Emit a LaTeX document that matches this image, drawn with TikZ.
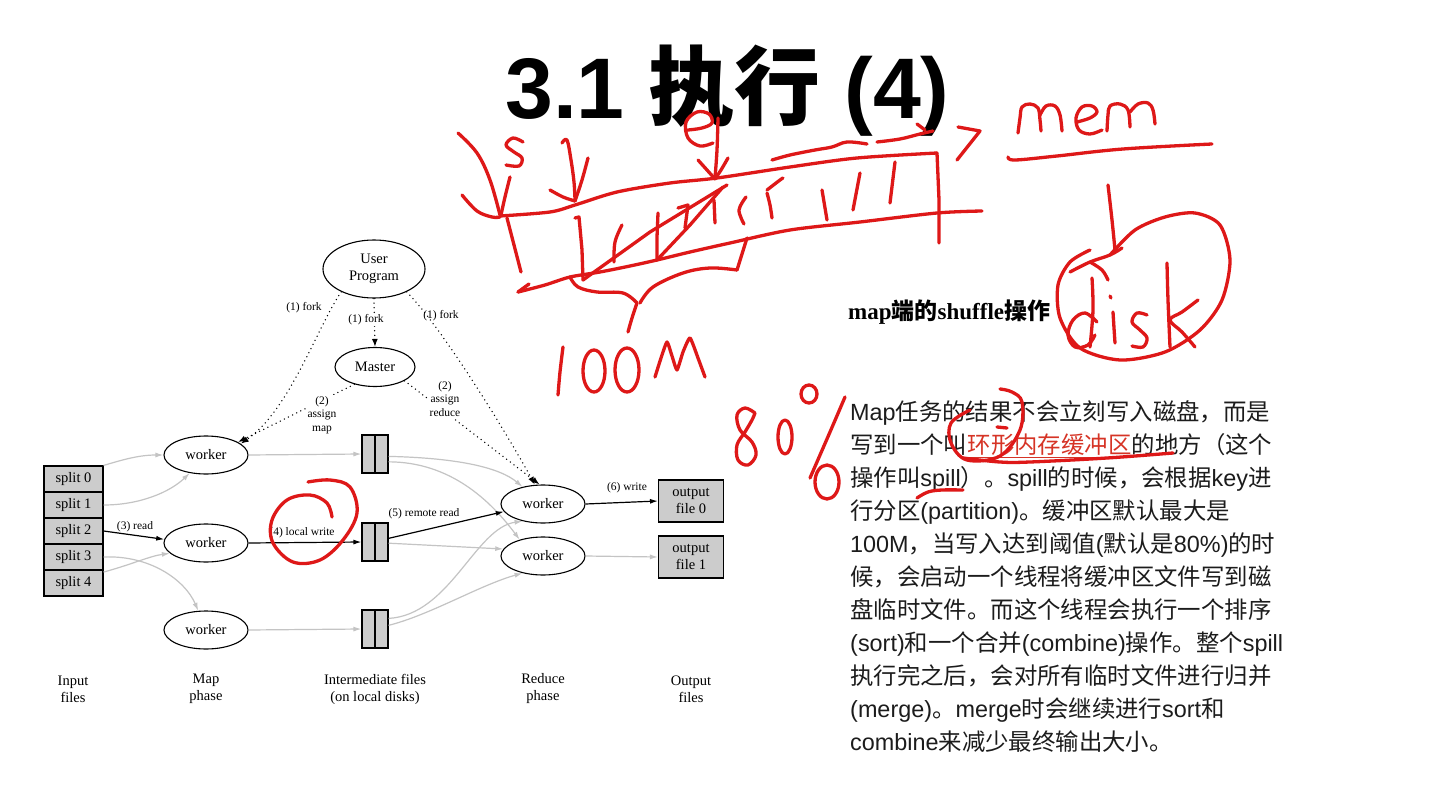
\documentclass[tikz,border=0pt]{standalone}
\usepackage{fontspec}
\setmainfont{Liberation Serif}
\newfontfamily\cjk{Noto Sans CJK SC}
\newfontfamily\headsans{Liberation Sans}
\newcommand\LatSeg[1]{{\headsans #1}}
\usetikzlibrary{shapes.geometric,arrows.meta}
\definecolor{penred}{RGB}{222,24,24}
\definecolor{linkred}{RGB}{214,52,38}
\definecolor{boxgray}{RGB}{204,204,204}
\definecolor{linegray}{RGB}{196,196,196}
\definecolor{bodytext}{RGB}{28,28,28}
\begin{document}
\begin{tikzpicture}[x=1pt,y=-1pt,
  dtext/.style={font=\fontsize{14.5}{17}\selectfont},
  stext/.style={font=\fontsize{11.5}{13.5}\selectfont, inner sep=1pt},
  oval/.style={draw, ellipse, line width=1.1pt, inner sep=0pt, dtext, align=center},
  worker/.style={oval, minimum width=84pt, minimum height=38pt},
  split/.style={draw, fill=boxgray, line width=1.1pt, minimum width=59pt, minimum height=26pt, inner sep=0pt, dtext},
  ifile/.style={draw, fill=boxgray, line width=1.1pt, minimum width=26pt, minimum height=38pt, inner sep=0pt},
  ofile/.style={draw, fill=boxgray, line width=1.1pt, minimum width=65pt, minimum height=42pt, inner sep=0pt, dtext, align=center},
  flow/.style={line width=1.2pt, -{Latex[length=8pt,width=5pt]}},
  live/.style={flow, draw=black},
  idle/.style={flow, draw=linegray},
  ctrl/.style={line width=1.5pt, line cap=round, dash pattern=on 0pt off 4.6pt, -{Latex[length=8pt,width=6pt]}},
  phase/.style={dtext, align=center},
  body/.style={anchor=base west, inner sep=0pt, text=bodytext, font={\cjk\fontsize{23.4}{28}\selectfont}},
  redink/.style={draw=penred, line width=3.3pt, line cap=round, line join=round}
]
\fill[white] (0,0) rectangle (1430,797);
\useasboundingbox (0,0) rectangle (1430,797);

% ---------- title ----------
\node[anchor=base west, inner sep=0pt, font={\headsans\bfseries\fontsize{86}{90}\selectfont}] (title) at (505,119) {3.1 {\cjk 执行} (4)};

% ---------- MapReduce execution overview ----------
\node[oval, minimum width=102pt, minimum height=58pt] (user) at (374,269) {User\\Program};
\node[oval, minimum width=80pt, minimum height=39pt] (master) at (375,367) {Master};

\node[split] (s0) at (73.5,479) {split 0};
\node[split] (s1) at (73.5,505) {split 1};
\node[split] (s2) at (73.5,531) {split 2};
\node[split] (s3) at (73.5,557) {split 3};
\node[split] (s4) at (73.5,583) {split 4};

\node[worker] (mw1) at (206,455) {worker};
\node[worker] (mw2) at (206,543) {worker};
\node[worker] (mw3) at (206,630) {worker};

\node[ifile] (f1) at (375,454) {};
\node[ifile] (f2) at (375,542) {};
\node[ifile] (f3) at (375,629) {};
\foreach \f in {f1,f2,f3} \draw[line width=1.1pt] (\f.north) -- (\f.south);

\node[worker] (rw1) at (543,504) {worker};
\node[worker] (rw2) at (543,556) {worker};

\node[ofile] (out0) at (691,501) {output\\file 0};
\node[ofile] (out1) at (691,557) {output\\file 1};

% control messages from the user program and the master
\draw[ctrl] (user.215) .. controls (318,325) and (290,410) .. (mw1.18);
\draw[ctrl] (user.south) -- (master.north);
\draw[ctrl] (user.-35) .. controls (440,325) and (505,430) .. (rw1.113);
\draw[ctrl] (master.220) -- (mw1.22);
\draw[ctrl] (master.-25) -- (rw1.100);

% data flow
\draw[idle] (s0.north east) .. controls (125,459) and (140,455) .. (mw1.west);
\draw[idle] (s1.east) .. controls (140,505) and (170,492) .. (mw1.228);
\draw[live] (s2.east) -- (mw2.175);
\draw[idle] (s3.east) .. controls (150,555) and (185,580) .. (mw3.112);
\draw[idle] (s4.20) .. controls (130,565) and (150,556) .. (mw2.196);

\draw[idle] (mw1.east) -- (f1.west);
\draw[live] (mw2.east) -- (f2.west);
\draw[idle] (mw3.east) -- (f3.west);

\draw[idle] (f1.-10) .. controls (460,458) and (500,468) .. (rw1.140);
\draw[idle] (f1.-30) .. controls (450,462) and (490,500) .. (rw2.145);
\draw[live] (f2.15) -- (rw1.191);
\draw[idle] (f2.-5) -- (rw2.170);
\draw[idle] (f3.38) .. controls (450,615) and (475,528) .. (rw1.220);
\draw[idle] (f3.15) .. controls (430,615) and (480,585) .. (rw2.220);

\draw[live] (rw1.east) -- (out0.west);
\draw[idle] (rw2.east) -- (out1.west);

% step labels
\node[stext] (lfork1) at (304,308) {(1) fork};
\node[stext, fill=white] (lfork2) at (366,320) {(1) fork};
\node[stext] (lfork3) at (441,316) {(1) fork};
\node[stext, fill=white, align=center] (lmap) at (322,415) {(2)\\assign\\map};
\node[stext, fill=white, align=center] (lred) at (445,399) {(2)\\assign\\reduce};
\node[stext] (lread) at (135,527) {(3) read};
\node[stext] (lwrite) at (302,533) {(4) local write};
\node[stext] (lremote) at (424,514) {(5) remote read};
\node[stext] (lout) at (627,488) {(6) write};

% phase captions
\node[phase] (cin) at (73,689) {Input\\files};
\node[phase] (cmap) at (206,689) {Map\\phase};
\node[phase] (cmid) at (375,689) {Intermediate files\\(on local disks)};
\node[phase] (cred) at (543,689) {Reduce\\phase};
\node[phase] (cout) at (691,689) {Output\\files};

% ---------- explanation text ----------
\node[anchor=base west, inner sep=0pt, text=black, font=\fontsize{23}{26}\selectfont] (head) at (848,319)
  {\bfseries map{\cjk 端的}shuffle{\cjk 操作}};

\node[body] (l1) at (850,420) {\LatSeg{Map}任务的结果不会立刻写入磁盘，而是};
\node[body] (l2a) at (850,453) {写到一个叫};
\node[body, text=linkred] (l2b) at (l2a.base east) {环形内存缓冲区};
\node[body] (l2c) at (l2b.base east) {的地方（这个};
\draw[linkred, line width=1pt] ([yshift=-4pt]l2b.base west) -- ([yshift=-4pt]l2b.base east);
\node[body] (l3) at (850,486) {操作叫\LatSeg{spill}）。\LatSeg{spill}的时候，会根据\LatSeg{key}进};
\node[body] (l4) at (850,519) {行分区\LatSeg{(partition)}。缓冲区默认最大是};
\node[body] (l5) at (850,552) {\LatSeg{100M}，当写入达到阈值\LatSeg{(}默认是\LatSeg{80\%)}的时};
\node[body] (l6) at (850,585) {候，会启动一个线程将缓冲区文件写到磁};
\node[body] (l7) at (850,618) {盘临时文件。而这个线程会执行一个排序};
\node[body] (l8) at (850,651) {\LatSeg{(sort)}和一个合并\LatSeg{(combine)}操作。整个\LatSeg{spill}};
\node[body] (l9) at (850,684) {执行完之后，会对所有临时文件进行归并};
\node[body] (l10) at (850,717) {\LatSeg{(merge)}。\LatSeg{merge}时会继续进行\LatSeg{sort}和};
\node[body] (l11) at (850,750) {\LatSeg{combine}来减少最终输出大小。};

% ---------- pen notes: ring buffer sketch ----------
% start pointer
\draw[redink] plot[smooth, tension=0.6] coordinates {(458,133) (477,153) (490,180) (500,215)};
\draw[redink] plot[smooth, tension=0.6] coordinates {(462,195) (477,211) (492,217) (500,217)};
\draw[redink] plot[smooth, tension=0.6] coordinates {(510,177) (505,197) (501,215)};
\draw[redink] plot[smooth, tension=0.6] coordinates {(507,218) (514,245) (521,272)};
\draw[redink] plot[smooth, tension=0.6] coordinates {(523,142) (513,138) (506,145) (514,152) (522,158) (519,166) (506,165)};
% second arrow
\draw[redink] plot[smooth, tension=0.6] coordinates {(562,143) (567,140) (571,160) (574,182) (575,200)};
\draw[redink] plot[smooth, tension=0.6] coordinates {(550,190) (563,197) (575,201)};
\draw[redink] plot[smooth, tension=0.6] coordinates {(588,158) (582,180) (575,201)};
% end pointer "e"
\draw[redink] plot[smooth, tension=0.6] coordinates {(688,130) (702,128) (712,123) (709,114) (697,112) (686,122) (688,138) (700,146) (713,143)};
\draw[redink] plot[smooth, tension=0.6] coordinates {(718,118) (717,150) (715,178)};
\draw[redink] plot[smooth, tension=0.6] coordinates {(698,160) (707,170) (715,179)};
\draw[redink] plot[smooth, tension=0.6] coordinates {(728,158) (721,170) (715,179)};
% buffer edges
\draw[redink] plot[smooth, tension=0.5] coordinates {(500,216) (550,212) (575,205) (617,192) (670,183) (717,178) (790,167) (857,158) (937,153)};
\draw[redink] (937,153) -- (939,200) -- (939,243);
\draw[redink] plot[smooth, tension=0.5] coordinates {(518,292) (545,285) (570,277) (600,272) (630,266) (657,260) (690,252) (730,243) (790,230) (860,222) (937,213) (982,211)};
\draw[redink] (518,292) -- (529,284);
% dashed arrow towards mem
\draw[redink] plot[smooth, tension=0.6] coordinates {(772,160) (790,155) (815,150) (832,147) (847,142) (867,144)};
\draw[redink] plot[smooth, tension=0.6] coordinates {(877,142) (900,139) (920,134) (933,131)};
\draw[redink] (917,124) -- (925,130);
\draw[redink] (958,127) -- (980,131) -- (957,160);
% buffer slots
\draw[redink] (575,218) -- (579,217) -- (582,250) -- (583,280);
\draw[redink] plot[smooth, tension=0.6] coordinates {(622,225) (615,242) (614,262)};
\draw[redink] (658,213) -- (657,237) -- (657,260);
\draw[redink] (583,280) -- (650,232) -- (727,185);
\draw[redink] (657,260) -- (690,225) -- (723,187);
\draw[redink] (678,208) -- (688,205) -- (685,228);
\draw[redink] (714,200) -- (715,223);
\draw[redink] plot[smooth, tension=0.6] coordinates {(746,197) (739,210) (744,224)};
\draw[redink] plot[smooth, tension=0.6] coordinates {(767,190) (780,180) (783,178)};
\draw[redink] plot[smooth, tension=0.6] coordinates {(767,193) (770,205) (772,218)};
\draw[redink] (822,190) -- (827,220);
\draw[redink] (860,173) -- (853,210);
\draw[redink] (895,162) -- (890,203);
% brace and size
\draw[redink] plot[smooth, tension=0.6] coordinates {(570,277) (578,287) (597,292) (623,293) (637,303)};
\draw[redink] plot[smooth, tension=0.6] coordinates {(640,303) (653,287) (683,273) (710,268) (737,270)};
\draw[redink] (737,270) -- (747,238);
\draw[redink] plot[smooth, tension=0.6] coordinates {(637,303) (632,318) (628,332)};
\draw[redink] plot[smooth, tension=0.6] coordinates {(563,347) (560,372) (558,395)};
\draw[redink] (594,371) ellipse [x radius=11pt, y radius=21pt];
\draw[redink] (627,370) ellipse [x radius=12pt, y radius=22pt];
\draw[redink] plot[smooth, tension=0.3] coordinates {(655,377) (661,358) (667,342) (672,356) (677,370) (683,352) (690,338) (698,358) (705,377)};
% mem / disk
\draw[redink] plot[smooth, tension=0.6] coordinates {(1018,133) (1020,118) (1022,107) (1030,104) (1038,108) (1040,120) (1041,131)};
\draw[redink] plot[smooth, tension=0.6] coordinates {(1040,115) (1046,106) (1055,106) (1060,115) (1062,131)};
\draw[redink] plot[smooth, tension=0.6] coordinates {(1077,122) (1090,118) (1097,112) (1092,106) (1082,107) (1076,118) (1079,130) (1090,134) (1102,130)};
\draw[redink] plot[smooth, tension=0.6] coordinates {(1107,131) (1108,115) (1110,106) (1120,104) (1128,110) (1130,127)};
\draw[redink] plot[smooth, tension=0.6] coordinates {(1130,112) (1138,104) (1148,103) (1153,110) (1155,124)};
\draw[redink] plot[smooth, tension=0.6] coordinates {(1008,157) (1015,160) (1057,156) (1123,149) (1212,144)};
\draw[redink] plot[smooth, tension=0.6] coordinates {(1108,185) (1112,220) (1115,250)};
\draw[redink] plot[smooth, tension=0.6] coordinates {(1070,272) (1090,262) (1110,255) (1122,248)};
\draw[redink] plot[smooth, tension=0.6] coordinates {(1090,262) (1102,270) (1108,280)};
\draw[redink] plot[smooth, tension=0.5] coordinates {(1110,255) (1135,230) (1165,217) (1195,213) (1220,225) (1230,260) (1222,300) (1200,330) (1165,352) (1120,360) (1080,348) (1060,318) (1058,285) (1070,262) (1090,250)};
\draw[redink] plot[smooth, tension=0.6] coordinates {(1097,322) (1085,313) (1073,320) (1068,335) (1075,347) (1088,345) (1095,335)};
\draw[redink] plot[smooth, tension=0.6] coordinates {(1092,278) (1093,310) (1090,347)};
\draw[redink] plot[smooth, tension=0.6] coordinates {(1113,312) (1114,328) (1115,343)};
\draw[redink] (1110,296) -- (1111,298);
\draw[redink] plot[smooth, tension=0.6] coordinates {(1147,315) (1137,313) (1132,322) (1140,330) (1147,338) (1143,347) (1132,346)};
\draw[redink] plot[smooth, tension=0.6] coordinates {(1167,263) (1168,300) (1170,347)};
\draw[redink] plot[smooth, tension=0.6] coordinates {(1198,300) (1182,312) (1170,320) (1182,332) (1195,347)};
% 80%
\draw[redink] plot[smooth, tension=0.6] coordinates {(755,413) (745,408) (737,415) (740,430) (752,442) (756,455) (748,465) (738,460) (737,445) (745,432) (752,420) (755,413)};
\draw[redink] (785,437) ellipse [x radius=7pt, y radius=17pt];
\draw[redink] (809,394) ellipse [x radius=8pt, y radius=9pt];
\draw[redink] plot[smooth, tension=0.6] coordinates {(845,397) (830,432) (810,478)};
\draw[redink] (827,482) ellipse [x radius=12pt, y radius=17pt];
% marks on the paragraph
\draw[redink] plot[smooth, tension=0.6] coordinates {(1000,389) (1012,392) (1022,402) (1020,430) (1000,456) (967,460) (951,443) (951,423) (970,410)};
\draw[redink] (997,427) -- (1007,428);
\draw[redink] plot[smooth, tension=0.6] coordinates {(963,458) (1000,462) (1030,462) (1107,458) (1173,453)};
\draw[redink] plot[smooth, tension=0.6] coordinates {(917,498) (928,492) (942,490) (963,490)};
% circle around the local write step
\draw[redink] plot[smooth, tension=0.6] coordinates {(332,517) (327,503) (310,495) (287,500) (272,520) (273,543) (293,562) (320,560) (343,540) (357,513) (350,487) (330,480) (308,482)};
\end{tikzpicture}
\end{document}
